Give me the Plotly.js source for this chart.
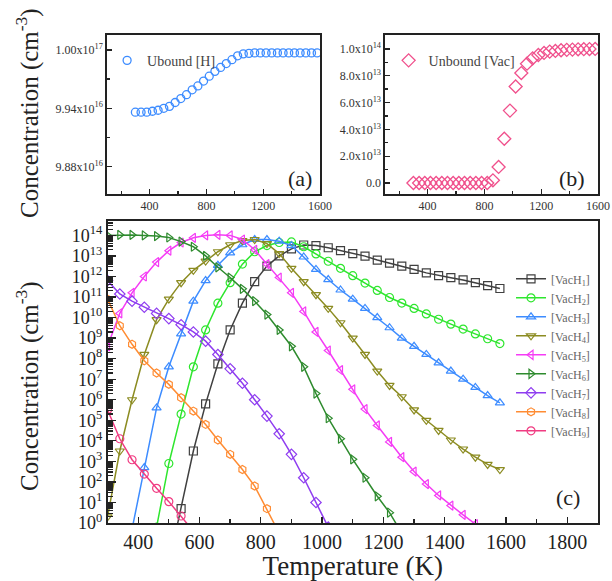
<!DOCTYPE html>
<html>
<head>
<meta charset="utf-8">
<script src="https://cdn.plot.ly/plotly-3.0.1.min.js"></script>
<style>html,body{margin:0;padding:0;background:#fff;}#chart{width:612px;height:581px;}</style>
</head>
<body>
<div id="chart"></div>
<script>
// ---------- data ----------
const temperature = [300,340,380,420,460,500,540,580,620,660,700,740,780,820,860,900,940,980,1020,1060,1100,1140,1180,1220,1260,1300,1340,1380,1420,1460,1500,1540,1580];

// panel (a): unbound H concentration (cm^-3)
const unboundH = [9.936e16,9.936e16,9.936e16,9.937e16,9.938e16,9.940e16,9.942e16,9.946e16,9.950e16,9.954e16,9.959e16,9.963e16,9.968e16,9.973e16,9.978e16,9.982e16,9.986e16,9.990e16,9.994e16,9.996e16,9.9965e16,9.997e16,9.997e16,9.997e16,9.997e16,9.997e16,9.997e16,9.997e16,9.997e16,9.997e16,9.997e16,9.997e16,9.997e16];

// panel (b): unbound vacancy concentration (cm^-3)
const unboundVac = [0,0,0,0,0,0,0,0,0,0,0,0,0,0,2e12,1.2e13,3.3e13,5.4e13,7.2e13,8.2e13,8.9e13,9.3e13,9.55e13,9.7e13,9.8e13,9.85e13,9.9e13,9.93e13,9.95e13,9.97e13,9.98e13,9.99e13,1.0e14];

// panel (c): VacHn complexes (cm^-3), same temperature grid; null = not present
const vacH1 = [null,null,null,null,null,1e-2,5.0,3.2e3,6.3e5,5.6e7,2.5e9,5.0e10,5.6e11,3.2e12,1.0e13,2.2e13,3.4e13,3.2e13,2.5e13,1.8e13,1.3e13,9.8e12,6.3e12,4.5e12,3.2e12,2.2e12,1.5e12,1.1e12,8.7e11,6.8e11,5.0e11,3.6e11,2.6e11];
const vacH2 = [null,null,null,null,0.63,7.9e2,2.0e5,4.0e7,2.5e9,5.0e10,5.0e11,4.0e12,1.6e13,3.2e13,4.5e13,4.8e13,2.8e13,1.26e13,5.5e12,2.5e12,1.1e12,4.8e11,2.1e11,9.5e10,5.1e10,2.8e10,1.5e10,8.3e9,4.8e9,2.75e9,1.6e9,9.3e8,5.4e8];
const vacH3 = [null,null,0.5,5.0e2,4.0e5,4.0e7,1.6e9,6.3e10,6.3e11,3.5e12,1.4e13,3.5e13,6.3e13,6.3e13,5.2e13,3.2e13,8.9e12,2.2e12,7.1e11,2.2e11,7.9e10,2.8e10,1.0e10,3.2e9,1.0e9,4.0e8,1.6e8,6.3e7,2.5e7,1.0e7,4.0e6,1.6e6,7.1e5];
const vacH4 = [2.0,3.2e3,1.0e6,1.6e8,7.9e9,7.9e10,5.0e11,2.0e12,5.6e12,1.6e13,3.5e13,5.6e13,6.3e13,4.0e13,1.3e13,2.5e12,5.6e11,1.3e11,2.8e10,5.6e9,1.0e9,1.6e8,2.5e7,5.0e6,1.4e6,3.2e5,1.0e5,3.2e4,1.1e4,4.0e3,1.6e3,7.1e2,4.0e2];
const vacH5 = [4.0e8,1.6e10,1.6e11,1.0e12,5.0e12,1.8e13,4.5e13,7.6e13,1.0e14,1.07e14,1.0e14,6.3e13,2.0e13,4.0e12,8.9e11,1.6e11,2.0e10,2.0e9,2.5e8,2.8e7,3.2e6,3.5e5,5.6e4,8.9e3,1.6e3,3.2e2,79,22,7.1,2.5,0.89,null,null];
const vacH6 = [1.0e14,1.05e14,1.05e14,1.0e14,9.3e13,7.9e13,5.0e13,2.8e13,1.0e13,2.8e12,8.9e11,2.5e11,6.3e10,1.4e10,2.5e9,4.0e8,4.0e7,2.0e6,1.26e5,1.26e4,1.26e3,1.6e2,20,3.2,0.32,null,null,null,null,null,null,null,null];
const vacH7 = [6.3e11,1.4e11,6.3e10,3.2e10,1.6e10,8.9e9,4.5e9,2.0e9,7.1e8,1.6e8,3.2e7,6.3e6,1.0e6,1.6e5,2.2e4,2.2e3,1.6e2,10,0.63,null,null,null,null,null,null,null,null,null,null,null,null,null,null];
const vacH8 = [7.9e10,4.0e9,5.0e8,7.9e7,2.0e7,5.6e6,1.26e6,2.8e5,6.3e4,1.1e4,2.2e3,4.0e2,63,5.0,0.32,null,null,null,null,null,null,null,null,null,null,null,null,null,null,null,null,null,null];
const vacH9 = [3.2e5,1.26e4,1.2e3,2.4e2,49,11,2.2,0.4,null,null,null,null,null,null,null,null,null,null,null,null,null,null,null,null,null,null,null,null,null,null,null,null,null];

const seriesNames = ['[VacH<sub>1</sub>]','[VacH<sub>2</sub>]','[VacH<sub>3</sub>]','[VacH<sub>4</sub>]','[VacH<sub>5</sub>]','[VacH<sub>6</sub>]','[VacH<sub>7</sub>]','[VacH<sub>8</sub>]','[VacH<sub>9</sub>]'];
const seriesValues = [vacH1,vacH2,vacH3,vacH4,vacH5,vacH6,vacH7,vacH8,vacH9];
const seriesColors = ['#404040','#2ee62e','#3d8cff','#8c8c22','#f53cf5','#2e8b2e','#8f3df0','#ff8c33','#f03c82'];
const seriesSymbols = ['square-open','circle-open','triangle-up-open','triangle-down-open','triangle-left-open','triangle-right-open','diamond-open','hexagon-open','circle-open'];

const aTickVals = [9.88e16, 9.94e16, 1.00e17];
const aTickText = ['9.88x10<sup>16</sup>','9.94x10<sup>16</sup>','1.00x10<sup>17</sup>'];
const bTickVals = [0, 2e13, 4e13, 6e13, 8e13, 1e14];
const bTickText = ['0.0','2.0x10<sup>13</sup>','4.0x10<sup>13</sup>','6.0x10<sup>13</sup>','8.0x10<sup>13</sup>','1.0x10<sup>14</sup>'];
const cDecades = [0,1,2,3,4,5,6,7,8,9,10,11,12,13,14];

// ---------- figure ----------
const FONT = 'Liberation Serif, Times New Roman, serif';
const traces = [];
traces.push({x: temperature, y: unboundH, xaxis:'x', yaxis:'y', mode:'markers', name:'Ubound [H]', legend:'legend2',
  marker:{symbol:'circle-open', size:8, color:'#3d8cff', line:{width:1.3}}});
traces.push({x: temperature, y: unboundVac, xaxis:'x2', yaxis:'y2', mode:'markers', name:'Unbound [Vac]', legend:'legend3',
  marker:{symbol:'diamond-open', size:10, color:'#f0508c', line:{width:1.3}}});
for (let i = 0; i < seriesValues.length; i++) {
  traces.push({x: temperature, y: seriesValues[i], xaxis:'x3', yaxis:'y3', mode:'lines+markers', name: seriesNames[i],
    line:{color: seriesColors[i], width:1.5}, marker:{symbol: seriesSymbols[i], size:8, color: seriesColors[i], line:{width:1.2}}});
}

const lineStyle = {showline:true, mirror:true, linecolor:'#222', linewidth:1.6, showgrid:false, zeroline:false,
  ticks:'inside', tickcolor:'#222', tickwidth:1.3};
const smallFont = {family: FONT, size: 12, color:'#333'};
const minorTickVals = [];
cDecades.forEach(n => { for (let d = 2; d <= 9; d++) { const v = d * Math.pow(10, n); if (Math.log10(v) < 14.7) minorTickVals.push(v); } });

const ann = (text, x, y, size, extra) => Object.assign({text, xref:'paper', yref:'paper', x, y, xanchor:'center', yanchor:'middle', showarrow:false,
  font:{family: FONT, size, color:'#222'}}, extra || {});

const layout = {
  width: 612, height: 581, margin:{l:0,r:0,t:0,b:0}, paper_bgcolor:'#fff', plot_bgcolor:'#fff',
  font:{family: FONT, color:'#222'},
  showlegend: true,
  xaxis: Object.assign({}, lineStyle, {domain:[0.1748,0.5229], anchor:'y', range:[100,1600], tickmode:'array', tickvals:[400,800,1200,1600], ticklen:5, tickfont: smallFont,
    minor:{tickmode:'array', tickvals:[200,600,1000,1400], ticks:'inside', ticklen:3, tickcolor:'#222'}}),
  yaxis: Object.assign({}, lineStyle, {domain:[0.6661,0.9398], anchor:'x', range:[9.8519e16,1.00154e17], tickmode:'array', tickvals:aTickVals, ticktext:aTickText, ticklen:5, tickfont: smallFont,
    minor:{tickmode:'array', tickvals:[9.91e16,9.97e16], ticks:'inside', ticklen:3, tickcolor:'#222'}}),
  xaxis2: Object.assign({}, lineStyle, {domain:[0.6291,0.9771], anchor:'y2', range:[100,1600], tickmode:'array', tickvals:[400,800,1200,1600], ticklen:5, tickfont: smallFont,
    minor:{tickmode:'array', tickvals:[200,600,1000,1400], ticks:'inside', ticklen:3, tickcolor:'#222'}}),
  yaxis2: Object.assign({}, lineStyle, {domain:[0.6661,0.9398], anchor:'x2', range:[-8.2e12,1.104e14], tickmode:'array', tickvals:bTickVals, ticktext:bTickText, ticklen:5, tickfont: smallFont,
    minor:{tickmode:'array', tickvals:[1e13,3e13,5e13,7e13,9e13], ticks:'inside', ticklen:3, tickcolor:'#222'}}),
  xaxis3: Object.assign({}, lineStyle, {domain:[0.1757,0.9771], anchor:'y3', range:[300,1900], tickmode:'linear', tick0:400, dtick:200, ticklen:6,
    tickfont:{family: FONT, size:20, color:'#222'},
    minor:{dtick:100, ticks:'inside', ticklen:4, tickcolor:'#222'},
    title:{text:'Temperature (K)', font:{family: FONT, size:27, color:'#222'}, standoff:4}}),
  yaxis3: Object.assign({}, lineStyle, {domain:[0.0998,0.6196], anchor:'x3', type:'log', range:[0,14.7], tickmode:'array',
    tickvals: cDecades.map(n => Math.pow(10, n)), ticktext: cDecades.map(n => '10<sup>' + n + '</sup>'), ticklen:8,
    tickfont:{family: FONT, size:18, color:'#222'},
    minor:{tickmode:'array', tickvals: minorTickVals, ticks:'inside', ticklen:5, tickcolor:'#222'}}),
  legend:{x:0.835, y:0.545, xanchor:'left', yanchor:'top', bgcolor:'rgba(0,0,0,0)', font:{family: FONT, size:12, color:'#666'}, tracegroupgap:0, itemwidth:30},
  legend2:{x:0.175, y:0.923, xanchor:'left', yanchor:'top', bgcolor:'rgba(0,0,0,0)', font:{family: FONT, size:14, color:'#444'}, itemwidth:30},
  legend3:{x:0.635, y:0.923, xanchor:'left', yanchor:'top', bgcolor:'rgba(0,0,0,0)', font:{family: FONT, size:14, color:'#444'}, itemwidth:30},
  annotations:[
    ann('(a)', 0.490, 1 - 178/581, 22),
    ann('(b)', 0.935, 1 - 178/581, 22),
    ann('(c)', 0.928, 1 - 497/581, 22),
    ann('Concentration (cm<sup>-3</sup>)', 27/612, 1 - 113/581, 25, {textangle:-90}),
    ann('Concentration (cm<sup>-3</sup>)', 27/612, 1 - 386/581, 25, {textangle:-90})
  ]
};
Plotly.newPlot('chart', traces, layout, {staticPlot:true, displayModeBar:false});
</script>
</body>
</html>
